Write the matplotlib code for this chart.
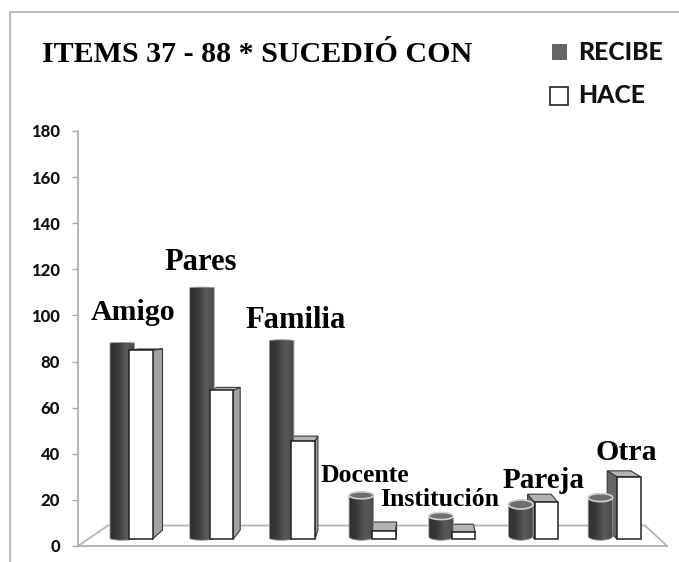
import numpy as np
import matplotlib
matplotlib.use("Agg")
import matplotlib.pyplot as plt
from matplotlib.lines import Line2D
from matplotlib.patches import PathPatch, Polygon, Rectangle
from matplotlib.path import Path
from matplotlib.colors import LinearSegmentedColormap

# Data
categories = ["Amigo", "Pares", "Familia", "Docente", "Institución", "Pareja", "Otra"]
recibe = [88, 112, 89, 22, 13, 18, 21]
hace = [85, 67.5, 45.5, 6.5, 6, 19, 30]
yticks = [0, 20, 40, 60, 80, 100, 120, 140, 160, 180]

# 3D look, in pixels, per category (the fake perspective of the original)
white_offset = [19, 20, 22, 23, 23, 26, 29]
back_dx = [10, 7, 3, 1, -2, -7, -10]
top_dy = [1, 3, 5, 9, 8, 8, 6]
ell_h = [0.6, 0.6, 1, 3.5, 3.5, 4.5, 4]
label_x = [133, 201, 295.5, 364.5, 439.5, 544, 626.5]
label_y = [312, 262, 320, 476, 500, 480, 452]
label_size = [21.5, 22, 22, 18.5, 18.5, 21, 21.5]

W, H = 679, 562
AX_L, AX_R, AX_T, AX_B = 78, 667, 131, 546
STEP = 79.7
PX = 1 / STEP
PY = 180 / (AX_B - AX_T)
SERIF = "Liberation Serif"
SANS = "Lato"

fig = plt.figure(figsize=(W / 100, H / 100), dpi=100, facecolor="white")
ax = fig.add_axes([AX_L / W, 1 - AX_B / H, (AX_R - AX_L) / W, (AX_B - AX_T) / H])
ax.patch.set_alpha(0)

xlim = ((AX_L - 110) * PX, (AX_R - 110) * PX)
ylim = (0, 180)

grad = LinearSegmentedColormap.from_list("cyl", ["#2e2e2e", "#3c3c3c", "#5a5a5a", "#484848"])


def xdata(px):
    return (px - 110) * PX


def ydata(py):
    return (AX_B - py) * PY


def draw_box_back(i, val):
    x0 = i + white_offset[i] * PX
    w = 23.5 * PX
    base = 3
    dx = back_dx[i] * PX
    dy = top_dy[i] * PY
    if dx > 0:
        side = [(x0 + w, val), (x0 + w + dx, val + dy), (x0 + w + dx, base + 9 * PY), (x0 + w, base)]
        col = "#a3a3a3"
    else:
        side = [(x0, val), (x0 + dx, val + dy), (x0 + dx, base + 9 * PY), (x0, base)]
        col = "#666666"
    ax.add_patch(Polygon(side, closed=True, fc=col, ec="#3a3a3a", lw=0.8, zorder=2))
    top = [(x0, val), (x0 + w, val), (x0 + w + dx, val + dy), (x0 + dx, val + dy)]
    ax.add_patch(Polygon(top, closed=True, fc="#b4b4b4", ec="#3a3a3a", lw=0.8, zorder=2))


def draw_cylinder(i, val):
    w = 24.5 * PX
    rx = w / 2
    cx = i + rx
    ry = ell_h[i] * PY
    bot_ry = max(ell_h[i], 2) * PY
    base = 2.5 + bot_ry
    t = np.linspace(np.pi, 0, 40)
    top_x = cx + rx * np.cos(t)
    top_y = val + ry * np.sin(t)
    bot_x = cx + rx * np.cos(t[::-1])
    bot_y = base - bot_ry * np.sin(t[::-1])
    verts = np.vstack([np.column_stack([top_x, top_y]), np.column_stack([bot_x, bot_y])])
    path = Path(np.vstack([verts, verts[0]]), closed=True)
    im = ax.imshow(np.linspace(0, 1, 64).reshape(1, -1), cmap=grad, aspect="auto",
                   extent=(i, i + w, 0, 130), zorder=3, interpolation="bilinear")
    patch = PathPatch(path, fc="none", ec="#9a9a9a", lw=0.6, zorder=3)
    ax.add_patch(patch)
    im.set_clip_path(patch)
    if ell_h[i] > 2:
        t2 = np.linspace(0, 2 * np.pi, 60)
        ell = np.column_stack([cx + rx * np.cos(t2), val + ry * np.sin(t2)])
        ax.add_patch(Polygon(ell, closed=True, fc="#6e6e6e", ec="#d2d2d2", lw=1.2, zorder=3))


def draw_box_front(i, val):
    x0 = i + white_offset[i] * PX
    w = 23.5 * PX
    ax.add_patch(Rectangle((x0, 3), w, val - 3, fc="white", ec="#222222", lw=1.1, zorder=4))


for i in range(len(categories)):
    draw_box_back(i, hace[i])
    draw_cylinder(i, recibe[i])
    draw_box_front(i, hace[i])

ax.set_xlim(*xlim)
ax.set_ylim(*ylim)
ax.set_xticks([])
ax.set_yticks(yticks)
ax.set_yticklabels([str(v) for v in yticks], fontfamily=SANS, fontweight=900, fontsize=12, color="#111111")
ax.tick_params(axis="y", length=4.5, width=1, color="#aaaaaa", pad=8.5)
for s in ["top", "right"]:
    ax.spines[s].set_visible(False)
for s in ["left", "bottom"]:
    ax.spines[s].set_color("#b0b0b0")
    ax.spines[s].set_linewidth(1.3)

# floor of the 3D box
floor = [(78, 546), (108, 525.5), (645, 525.5), (667, 546)]
ax.plot([xdata(p[0]) for p in floor], [ydata(p[1]) for p in floor], color="#b4b4b4", lw=1.3, zorder=1, clip_on=False)

for i, name in enumerate(categories):
    ax.text(xdata(label_x[i]), ydata(label_y[i]), name, fontfamily=SERIF, fontweight="bold",
            fontsize=label_size[i], ha="center", va="center", color="black", zorder=6)

# title + legend, figure pixels
fig.text(42 / W, 1 - 54 / H, "ITEMS 37 - 88 * SUCEDIÓ CON", fontfamily=SERIF, fontweight="bold",
         fontsize=21.6, ha="left", va="center", color="black")
fig.add_artist(Rectangle((552 / W, 1 - 60 / H), 15 / W, 16 / H, transform=fig.transFigure, fc="#666666", ec="none"))
fig.add_artist(Rectangle((550 / W, 1 - 105 / H), 18 / W, 18 / H, transform=fig.transFigure, fc="white", ec="#222222", lw=1.2))
fig.text(578 / W, 1 - 52 / H, "RECIBE", fontfamily=SANS, fontweight=900, fontsize=17.8, ha="left", va="center", color="#111111")
fig.text(578 / W, 1 - 95 / H, "HACE", fontfamily=SANS, fontweight=900, fontsize=17.8, ha="left", va="center", color="#111111")

# chart frame, only top and left survive the crop
fig.add_artist(Line2D([9.5 / W, 9.5 / W, 1], [0, 1 - 12 / H, 1 - 12 / H], transform=fig.transFigure, color="#bdbdbd", lw=1.5))

fig.savefig("out.png", dpi=100)
